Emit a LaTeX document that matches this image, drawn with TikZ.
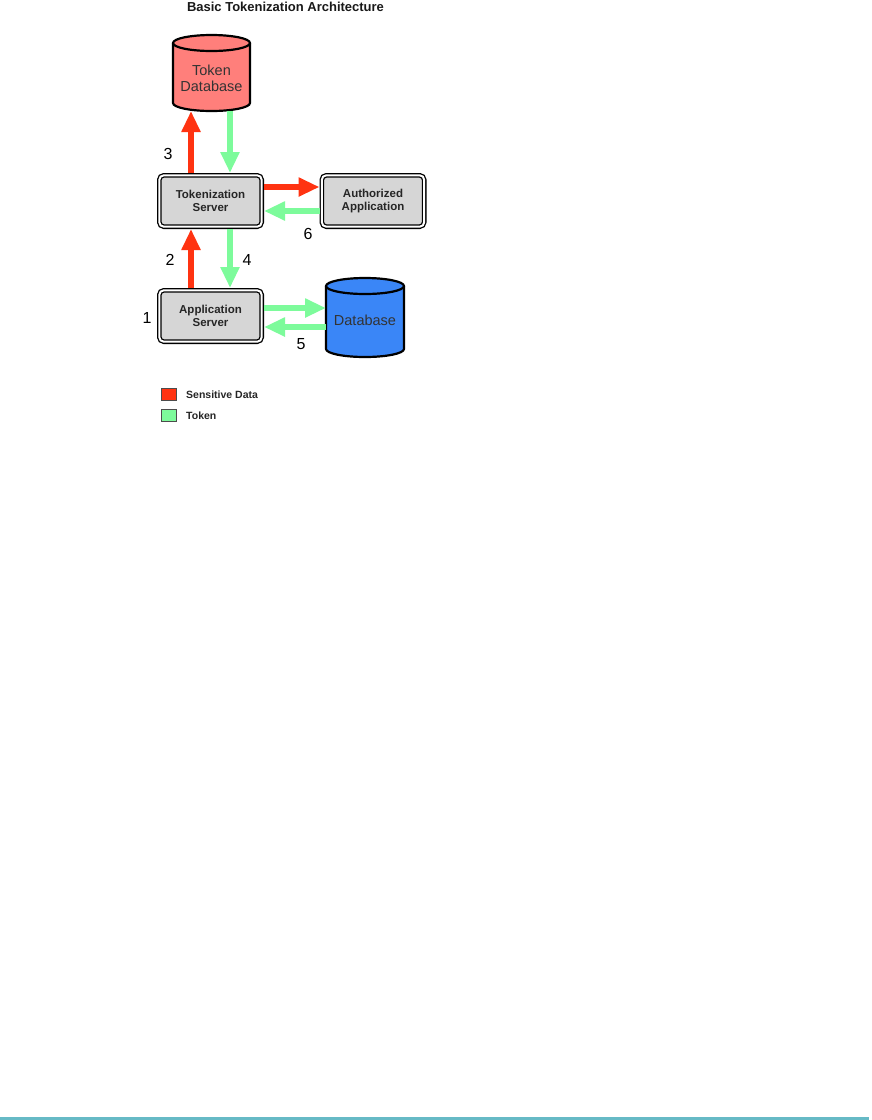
\documentclass[tikz,border=0pt]{standalone}
\usepackage{fontspec}
\setmainfont{Liberation Sans}
\usetikzlibrary{arrows.meta}
\definecolor{redA}{HTML}{FF3311}
\definecolor{greenA}{HTML}{7DFB9B}
\definecolor{salmonA}{HTML}{FF7F7B}
\definecolor{dbblue}{HTML}{3A86F7}
\definecolor{boxgray}{HTML}{D6D6D6}
\definecolor{tealA}{HTML}{66BAC6}
\newcommand\cylshape[5]{% cx, rx, top cy, bottom cy, fill
  \fill[#5] ({#1-#2},#3) rectangle ({#1+#2},#4);
  \fill[#5] (#1,#4) ellipse[x radius=#2, y radius=8];
  \fill[#5] (#1,#3) ellipse[x radius=#2, y radius=8];
  \draw[line width=2.2pt] (#1,#3) ellipse[x radius=#2, y radius=8];
  \draw[line width=2.2pt] ({#1-#2},#3) -- ({#1-#2},#4) arc[start angle=180, end angle=0, x radius=#2, y radius=8] -- ({#1+#2},#3);
}
\begin{document}
\begin{tikzpicture}[x=1pt,y=-1pt,
  serverbox/.style={draw=black, line width=1.3pt, double=white, double distance=2pt,
    fill=boxgray, rounded corners=4.5pt, minimum width=102.4pt, minimum height=51.4pt,
    inner sep=0pt, outer sep=2.3pt, align=center, text=black!85,
    font=\fontsize{11.5}{13.5}\selectfont\bfseries},
  dbshape/.style={inner sep=0pt, outer sep=0pt},
  dblabel/.style={inner sep=0pt, outer sep=0pt, align=center, text=black!80,
    font=\fontsize{14.5}{16.5}\selectfont},
  numlabel/.style={inner sep=0pt, font=\fontsize{16}{18}\selectfont},
  redflow/.style={draw=redA, line width=6pt, -{Triangle[length=21pt, width=18pt]}},
  greenflow/.style={draw=greenA, line width=6pt, -{Triangle[length=21pt, width=18pt]}},
  legendbox/.style={draw=black!70, line width=0.6pt, minimum width=15pt, minimum height=12pt, inner sep=0pt},
  legendtext/.style={anchor=west, inner sep=0pt, text=black!85, font=\fontsize{10.5}{12}\selectfont\bfseries}
]
\useasboundingbox (0,0) rectangle (871,1120);
% title
\node[inner sep=0pt, text=black!90, font=\fontsize{13}{15}\selectfont\bfseries] (title) at (285.5,7) {Basic Tokenization Architecture};
% cylinders
\cylshape{211.5}{38.5}{43}{103}{salmonA}
\node[dbshape, minimum width=77pt, minimum height=76pt] (tdb) at (211.5,73) {};
\node[dblabel] (tdbtext) at (211.5,78.5) {Token\\Database};
\cylshape{365}{39}{286}{349}{dbblue}
\node[dbshape, minimum width=78pt, minimum height=79pt] (db) at (365,317.5) {};
\node[dblabel] (dbtext) at (365,320.5) {Database};
% servers
\node[serverbox] (tok) at (210.5,201) {Tokenization\\Server};
\node[serverbox] (auth) at (373,201) {Authorized\\Application};
\node[serverbox] (app) at (210.5,316) {Application\\Server};
% flows
\draw[redflow] ([xshift=-19.5pt]tok.north) -- ([xshift=-19.5pt]tok.north |- tdb.south);
\draw[greenflow] ([xshift=19.5pt]tok.north |- tdb.south) -- ([xshift=19.5pt]tok.north);
\draw[redflow] ([yshift=14pt]tok.east) -- ([yshift=14pt]auth.west);
\draw[greenflow] ([yshift=-10pt]auth.west) -- ([yshift=-10pt]tok.east);
\draw[redflow] ([xshift=-19.5pt]app.north) -- ([xshift=-19.5pt]tok.south);
\draw[greenflow] ([xshift=19.5pt]tok.south) -- ([xshift=19.5pt]app.north);
\draw[greenflow] ([yshift=8pt]app.east) -- ([yshift=8pt]app.east -| db.west);
\draw[greenflow] ([yshift=-11pt]app.east -| db.west) -- ([yshift=-11pt]app.east);
% numbers
\node[numlabel] (n3) at (168,154) {3};
\node[numlabel] (n6) at (308,234) {6};
\node[numlabel] (n2) at (170,260) {2};
\node[numlabel] (n4) at (247,260) {4};
\node[numlabel] (n1) at (147,318) {1};
\node[numlabel] (n5) at (301,344) {5};
% legend
\node[legendbox, fill=redA] (lr) at (169,394) {};
\node[legendtext] (lrt) at (186,395) {Sensitive Data};
\node[legendbox, fill=greenA] (lg) at (169,415.5) {};
\node[legendtext] (lgt) at (186,416) {Token};
% bottom rule
\draw[tealA, line width=3pt] (0,1118.5) -- (869,1118.5);
\end{tikzpicture}
\end{document}
